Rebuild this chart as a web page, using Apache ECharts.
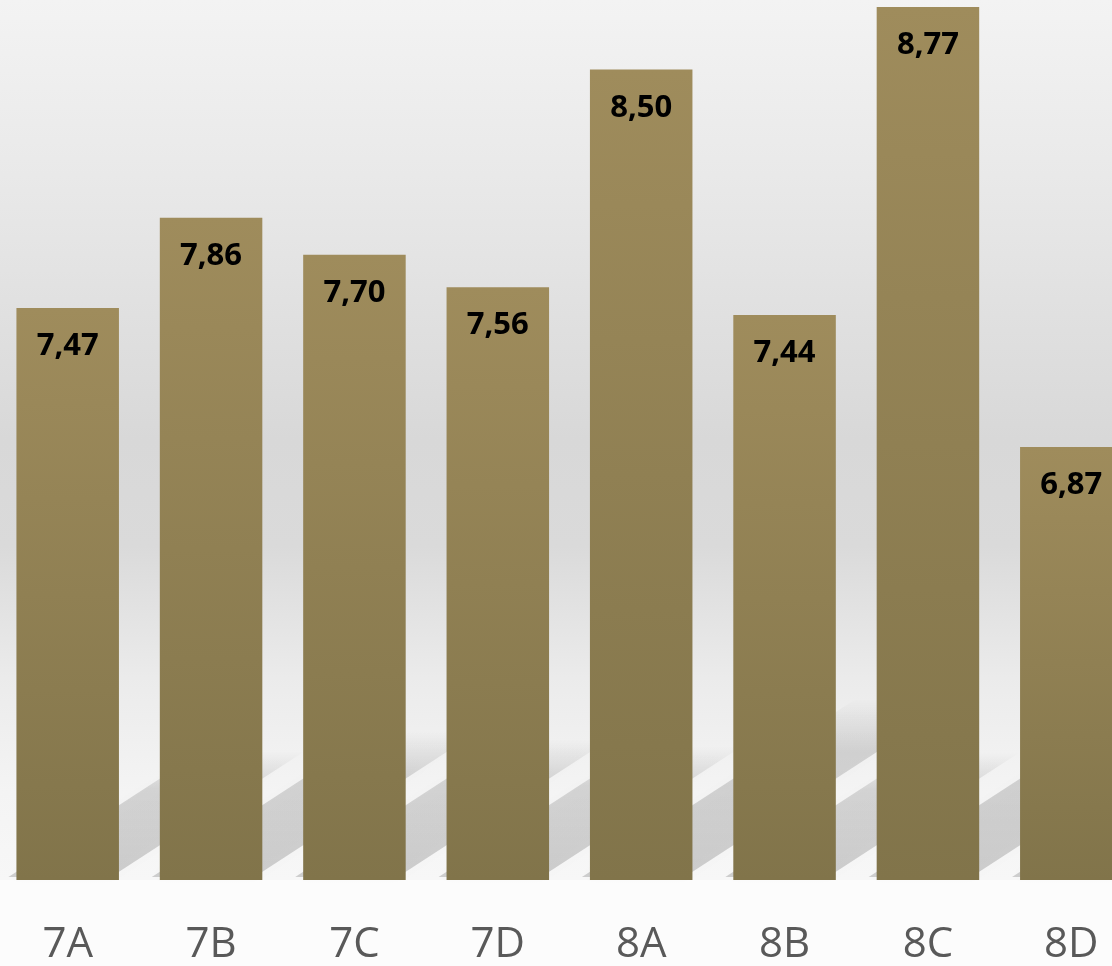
<!DOCTYPE html>
<html>
<head>
<meta charset="utf-8" />
<script src="https://cdn.jsdelivr.net/npm/echarts@6/dist/echarts.min.js"></script>
<style>
  html, body { margin: 0; padding: 0; background: #fcfcfc; overflow: hidden; }
  #main { position: absolute; left: -4px; top: 0; width: 1147px; height: 966px; }
</style>
</head>
<body>
<div id="main"></div>
<script>
var categories = ["7A", "7B", "7C", "7D", "8A", "8B", "8C", "8D"];
var values = [7.47, 7.86, 7.70, 7.56, 8.50, 7.44, 8.77, 6.87];
var yMin = 5;
var yMax = 8.8;

var chartDom = document.getElementById("main");
var myChart = echarts.init(chartDom);
var option;

// floor shadow behind each bar, leaning up and to the right
function renderShadow(params, api) {
  var idx = api.value(0);
  var val = api.value(1);
  var base = api.coord([idx, yMin]);
  var top = api.coord([idx, val]);
  var barH = base[1] - top[1];
  var w = api.size([1, 0])[0] * 0.715;
  var xl = base[0] - w / 2 - 8;
  var xr = base[0] + w / 2 - 8;
  var h = barH * 0.22;
  var dx = h / 0.65;
  var y0 = base[1] - 3;
  return {
    type: "polygon",
    shape: {
      points: [[xl, y0], [xr, y0], [xr + dx, y0 - h], [xl + dx, y0 - h]],
    },
    style: {
      fill: new echarts.graphic.LinearGradient(0, 0, 0, 1, [
        { offset: 0, color: "rgba(0,0,0,0.0)" },
        { offset: 0.3, color: "rgba(0,0,0,0.13)" },
        { offset: 1, color: "rgba(0,0,0,0.17)" },
      ]),
      shadowBlur: 12,
      shadowColor: "rgba(0,0,0,0.08)",
    },
  };
}

option = {
  backgroundColor: "#fcfcfc",
  animation: false,
  grid: {
    left: 0,
    right: 0,
    top: 0,
    bottom: 83,
    show: true,
    borderWidth: 0,
    backgroundColor: new echarts.graphic.LinearGradient(0, 0, 0, 1, [
      { offset: 0, color: "#f3f3f3" },
      { offset: 0.2, color: "#e9e9e9" },
      { offset: 0.5, color: "#d8d8d8" },
      { offset: 0.62, color: "#dadada" },
      { offset: 0.77, color: "#ebebeb" },
      { offset: 0.9, color: "#f4f4f4" },
      { offset: 1, color: "#f7f7f7" },
    ]),
  },
  xAxis: {
    type: "category",
    data: categories,
    axisLine: { show: false },
    axisTick: { show: false },
    axisLabel: {
      margin: 44,
      color: "#595959",
      fontSize: 42,
      fontFamily: "Open Sans",
    },
  },
  yAxis: {
    type: "value",
    min: yMin,
    max: yMax,
    show: false,
    splitLine: { show: false },
  },
  series: [
    {
      type: "custom",
      z: 1,
      silent: true,
      renderItem: renderShadow,
      data: values.map(function (v, i) {
        return [i, v];
      }),
    },
    {
      type: "bar",
      z: 2,
      data: values,
      barWidth: "71.5%",
      itemStyle: {
        color: new echarts.graphic.LinearGradient(0, 0, 0, 1, [
          { offset: 0, color: "#9f8c5c" },
          { offset: 1, color: "#81744a" },
        ]),
      },
      label: {
        show: true,
        position: "insideTop",
        distance: 23,
        color: "#000000",
        fontSize: 31,
        fontWeight: "bold",
        fontFamily: "Open Sans",
        formatter: function (p) {
          return p.value.toFixed(2).replace(".", ",");
        },
      },
    },
  ],
};

option && myChart.setOption(option);
window.addEventListener("resize", function () {
  myChart.resize();
});
</script>
</body>
</html>
